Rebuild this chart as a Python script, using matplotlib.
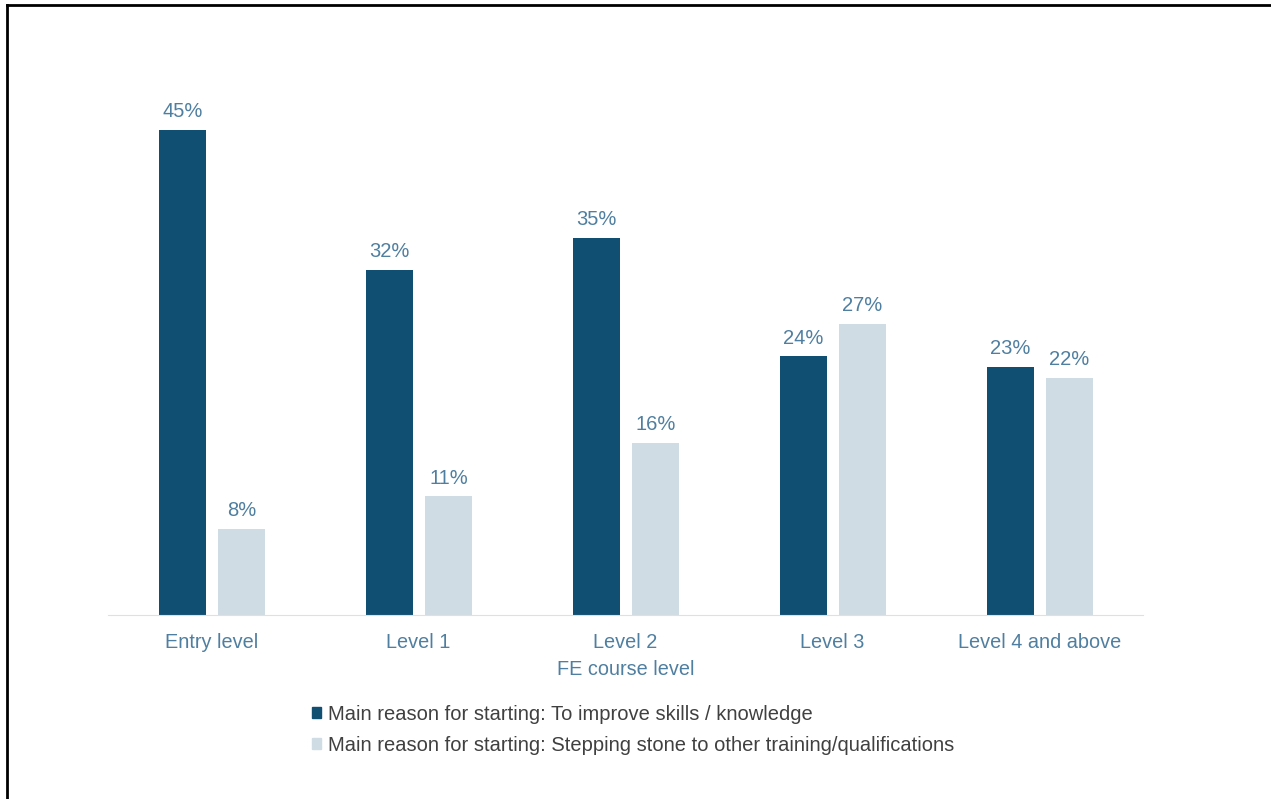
import numpy as np
import matplotlib.pyplot as plt
from matplotlib.lines import Line2D
from matplotlib.patches import Patch

plt.rcParams['font.family'] = ['Liberation Sans', 'DejaVu Sans']

levels = ['Entry level', 'Level 1', 'Level 2', 'Level 3', 'Level 4 and above']
improve = [45, 32, 35, 24, 23]
stepping = [8, 11, 16, 27, 22]
names = ['Main reason for starting: To improve skills / knowledge',
         'Main reason for starting: Stepping stone to other training/qualifications']

dark = '#104E72'
light = '#D0DCE3'
txt = '#4F7FA0'

W, H = 1271, 799
fig = plt.figure(figsize=(W/100, H/100), dpi=100)
ax = fig.add_axes([108/W, 1-615/H, 1035/W, (615-76)/H])

x = np.arange(len(levels))
bw = 0.225
b1 = ax.bar(x-0.14, improve, bw, color=dark)
b2 = ax.bar(x+0.145, stepping, bw, color=light)
for bars, vals in [(b1, improve), (b2, stepping)]:
    for b, v in zip(bars, vals):
        ax.text(b.get_x()+b.get_width()/2, v+0.8, f'{v}%', ha='center', va='bottom',
                fontsize=14.5, color=txt)

ax.set_xlim(-0.5, 4.5)
ax.set_ylim(0, 50)
ax.set_yticks([])
ax.set_xticks(x)
ax.set_xticklabels(levels, fontsize=14.3, color=txt)
ax.tick_params(axis='x', length=0, pad=13)
for s in ['top', 'right', 'left']:
    ax.spines[s].set_visible(False)
ax.spines['bottom'].set_color('#E0E0E0')
ax.set_xlabel('FE course level', fontsize=14.3, color=txt, labelpad=6)

handles = [Patch(color=dark), Patch(color=light)]
fig.legend(handles, names, loc='upper left', bbox_to_anchor=(312/W, 1-705/H),
           frameon=False, fontsize=14.5, handlelength=0.45, handleheight=0.45,
           handletextpad=0.35, labelspacing=0.6, labelcolor='#404040',
           borderaxespad=0, borderpad=0)

# screenshot border on top and left
fig.add_artist(Line2D([7/W, 1], [1-5/H, 1-5/H], color='black', lw=2, transform=fig.transFigure))
fig.add_artist(Line2D([7/W, 7/W], [0, 1-5/H], color='black', lw=2, transform=fig.transFigure))

fig.savefig('out.png', dpi=100)
